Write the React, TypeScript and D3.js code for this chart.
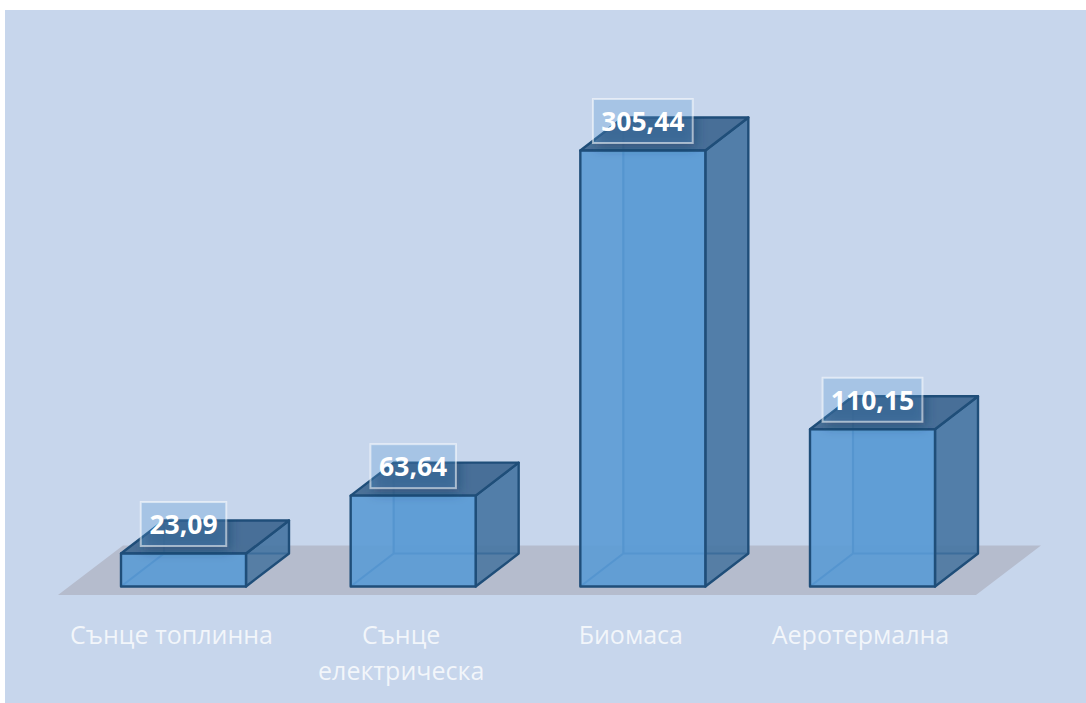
import React from "react";
import * as d3 from "d3";

const categories = ["Сънце топлинна", "Сънце електрическа", "Биомаса", "Аеротермална"];
const labelLines = [["Сънце топлинна"], ["Сънце", "електрическа"], ["Биомаса"], ["Аеротермална"]];
const values = [23.09, 63.64, 305.44, 110.15];
const valueLabels = ["23,09", "63,64", "305,44", "110,15"];

const W = 1086, H = 703;
const baseY = 586.5;
const barW = 125, dx = 43, dy = 33;
const x = d3.scalePoint<string>().domain(categories).range([183.5, 872.5]);
const y = d3.scaleLinear().domain([0, 305.44]).range([baseY, 150.5]);
const pts = (p: number[][]) => p.map((q) => q.join(",")).join(" ");

const stroke = "#1f4e79";
const FONT = "'Open Sans', sans-serif";

export default function App() {
  return (
    <svg width={W} height={H} style={{ position: "absolute", left: 0, top: 0, display: "block" }}>
      <defs>
        <filter id="sh" x="-30%" y="-30%" width="160%" height="170%">
          <feGaussianBlur stdDeviation="6" />
        </filter>
      </defs>
      <rect x={5} y={10} width={1081} height={693} fill="#c7d6ec" />
      <polygon points={pts([[58, 595], [976, 595], [1041, 545.5], [123, 545.5]])} fill="#b5bccd" />
      {categories.map((c, i) => {
        const l = x(c)! - barW / 2, r = l + barW, t = y(values[i]);
        return (
          <g key={c}>
            <polygon points={pts([[l + dx, t - dy], [r + dx, t - dy], [r + dx, baseY - dy], [l + dx, baseY - dy]])} fill="#5b9bd5" fillOpacity={0.55} />
            <polygon points={pts([[l, baseY], [r, baseY], [r + dx, baseY - dy], [l + dx, baseY - dy]])} fill="#5b9bd5" fillOpacity={0.25} />
            <path d={`M${l},${baseY}L${l + dx},${baseY - dy}L${r + dx},${baseY - dy}M${l + dx},${baseY - dy}L${l + dx},${t - dy}`} fill="none" stroke="#1f5f9c" strokeWidth={2.2} />
            <polygon points={pts([[r, t], [r + dx, t - dy], [r + dx, baseY - dy], [r, baseY]])} fill="#44719b" fillOpacity={0.8} stroke={stroke} strokeWidth={2.4} strokeLinejoin="round" />
            <polygon points={pts([[l, t], [l + dx, t - dy], [r + dx, t - dy], [r, t]])} fill="#446c93" fillOpacity={0.95} stroke={stroke} strokeWidth={2.4} strokeLinejoin="round" />
            <polygon points={pts([[l, t], [r, t], [r, baseY], [l, baseY]])} fill="#5b9bd5" fillOpacity={0.9} stroke={stroke} strokeWidth={2.4} strokeLinejoin="round" />
          </g>
        );
      })}
      {categories.map((c, i) => {
        const cx = x(c)!, t = y(values[i]);
        const bw = valueLabels[i].length * 14.3 + 14, bh = 44, by = t - 51.5;
        const clipId = `clip${i}`;
        return (
          <g key={c + "v"}>
            <clipPath id={clipId}>
              <polygon points={pts([[cx - barW / 2, t], [cx - barW / 2 + dx, t - dy], [cx + barW / 2 + dx, t - dy], [cx + barW / 2 + dx, baseY - dy], [cx + barW / 2, baseY], [cx - barW / 2, baseY]])} />
            </clipPath>
            <g clipPath={`url(#${clipId})`}>
              <rect x={cx - bw / 2 + 3} y={by + 4} width={bw} height={bh} fill="#123a60" fillOpacity={0.5} filter="url(#sh)" />
            </g>
            <rect x={cx - bw / 2} y={by} width={bw} height={bh} fill="#5b9bd5" fillOpacity={0.3} stroke="#ffffff" strokeOpacity={0.55} strokeWidth={2} />
            <text x={cx} y={by + 32} textAnchor="middle" fontFamily={FONT} fontWeight={700} fontSize={26.5} fill="#fff">{valueLabels[i]}</text>
          </g>
        );
      })}
      {categories.map((c, i) => (
        <text key={c + "l"} textAnchor="middle" fontFamily={FONT} fontSize={25} fill="#fff" fillOpacity={0.78}>
          {labelLines[i].map((s, j) => (
            <tspan key={s} x={x(c)! - 12} y={644 + j * 35.5}>{s}</tspan>
          ))}
        </text>
      ))}
    </svg>
  );
}
